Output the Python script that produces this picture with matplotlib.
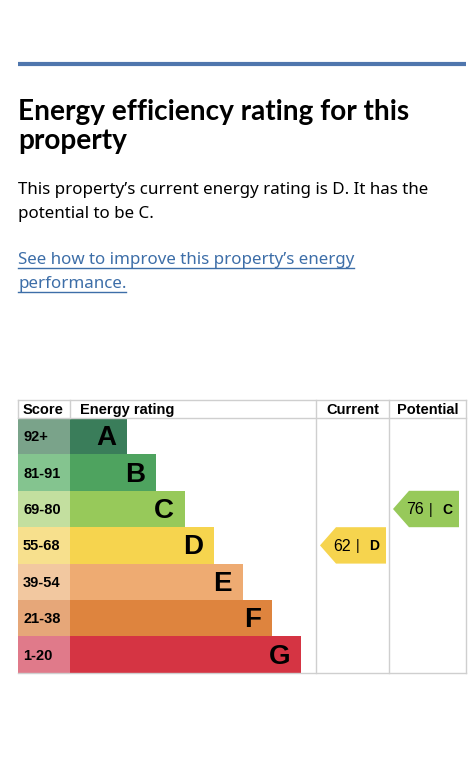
import matplotlib.pyplot as plt
from matplotlib.patches import Polygon

# rating bands and score ranges
bands = ['A', 'B', 'C', 'D', 'E', 'F', 'G']
score_ranges = ['92+', '81-91', '69-80', '55-68', '39-54', '21-38', '1-20']
bar_colors = ['#3a7d5a', '#4ea35f', '#97c95a', '#f6d44e', '#eeab72', '#de843e', '#d53443']
cell_colors = ['#7aa38a', '#84c48f', '#c3df9f', '#f7e08d', '#f2c8a0', '#e6a779', '#e07a8a']

current_score, current_band = 62, 'D'
potential_score, potential_band = 76, 'C'

title = ['Energy efficiency rating for this', 'property']
body = ['This property\u2019s current energy rating is D. It has the',
        'potential to be C.']
link = ['See how to improve this property\u2019s energy', 'performance.']

W, H = 469, 768
fig = plt.figure(figsize=(W / 100, H / 100), dpi=100)
ax = fig.add_axes([0, 0, 1, 1])
ax.set_xlim(0, W)
ax.set_ylim(H, 0)
ax.axis('off')

head_font = ['Lato', 'DejaVu Sans']
text_font = ['Noto Sans', 'DejaVu Sans']
chart_font = ['Liberation Sans', 'DejaVu Sans']
link_col = '#3d6ea8'

# top blue rule
ax.plot([18, 466], [64, 64], color='#4f76ad', lw=3, solid_capstyle='butt')

# heading and text
for i, line in enumerate(title):
    ax.text(18, 120 + 29 * i, line, fontsize=20.2, fontweight='bold', family=head_font,
            va='baseline')
for i, line in enumerate(body):
    ax.text(18, 194 + 24 * i, line, fontsize=12.2, family=text_font, va='baseline')

link_texts = []
for i, line in enumerate(link):
    t = ax.text(18, 264 + 24 * i, line, fontsize=12.2, family=text_font, va='baseline',
                color=link_col)
    link_texts.append(t)

# table geometry
left, score_w, bar_x = 18, 52, 70
cur_x0, pot_x0, right = 316, 389, 466
head_top, head_bot = 400, 418
row_h = 36.4
ys = [head_bot + row_h * (i + 0.5) for i in range(len(bands))]
bar_w = [57 + 29 * i for i in range(len(bands))]

ax.barh(ys, [score_w] * len(bands), left=left, height=row_h, color=cell_colors)
ax.barh(ys, bar_w, left=bar_x, height=row_h, color=bar_colors)

for y, s, b, w in zip(ys, score_ranges, bands, bar_w):
    ax.text(left + 5, y + 1, s, fontsize=10.5, fontweight='bold', family=chart_font,
            va='center', ha='left')
    ax.text(bar_x + w - 11, y + 2, b, fontsize=20, fontweight='bold', family=chart_font,
            va='center', ha='right')

# grid lines
gc = '#cfcfcf'
bottom = head_bot + row_h * len(bands)
ax.plot([left, right], [head_top, head_top], color=gc, lw=1)
ax.plot([left, right], [head_bot, head_bot], color=gc, lw=1)
ax.plot([left, right], [bottom, bottom], color=gc, lw=1)
ax.plot([left, left], [head_top, head_bot], color=gc, lw=1)
ax.plot([bar_x, bar_x], [head_top, head_bot], color=gc, lw=1)
for x in (cur_x0, pot_x0, right):
    ax.plot([x, x], [head_top, bottom], color=gc, lw=1)

hy = (head_top + head_bot) / 2 + 1
ax.text(left + 5, hy, 'Score', fontsize=10.5, fontweight='bold', family=chart_font,
        va='center')
ax.text(bar_x + 10, hy, 'Energy rating', fontsize=10.5, fontweight='bold', family=chart_font,
        va='center')
ax.text((cur_x0 + pot_x0) / 2, hy, 'Current', fontsize=10.5, fontweight='bold',
        family=chart_font, va='center', ha='center')
ax.text((pot_x0 + right) / 2, hy, 'Potential', fontsize=10.5, fontweight='bold',
        family=chart_font, va='center', ha='center')


def arrow(x0, x1, band, score):
    i = bands.index(band)
    yc = ys[i]
    top, bot = yc - row_h / 2, yc + row_h / 2
    pts = [(x0, yc), (x0 + 16, top), (x1, top), (x1, bot), (x0 + 16, bot)]
    ax.add_patch(Polygon(pts, closed=True, color=bar_colors[i], lw=0))
    ax.text(x0 + 13, yc + 1, f'{score}', fontsize=11.5, family=chart_font, va='center')
    ax.text(x0 + 36, yc + 1, '|', fontsize=10, family=chart_font, va='center')
    ax.text(x0 + 49, yc + 1, band, fontsize=10, fontweight='bold', family=chart_font,
            va='center')


arrow(cur_x0 + 4, cur_x0 + 70, current_band, current_score)
arrow(pot_x0 + 4, pot_x0 + 70, potential_band, potential_score)

# underline the link
fig.canvas.draw()
inv = ax.transData.inverted()
for t in link_texts:
    bb = t.get_window_extent()
    (x0, _), (x1, _) = inv.transform([(bb.x0, bb.y0), (bb.x1, bb.y1)])
    y = t.get_position()[1] + 4
    ax.plot([x0, x1], [y, y], color=link_col, lw=1)

fig.savefig('out.png', dpi=100, facecolor='white')
